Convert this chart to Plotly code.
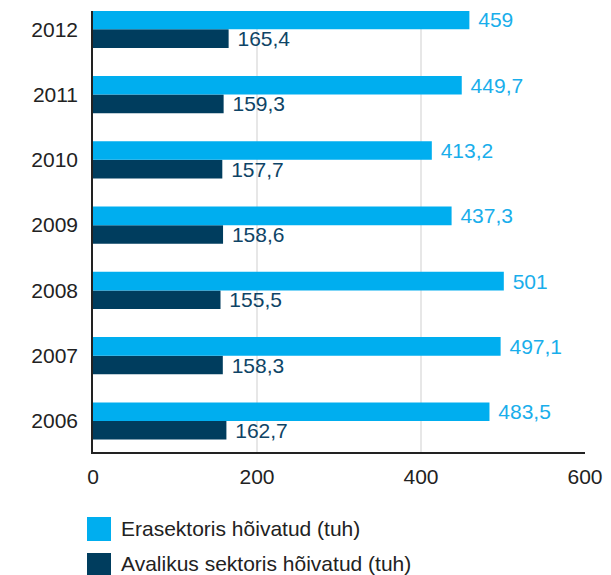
import plotly.graph_objects as go

years = ["2006", "2007", "2008", "2009", "2010", "2011", "2012"]
erasektor = [483.5, 497.1, 501, 437.3, 413.2, 449.7, 459]
avalik = [162.7, 158.3, 155.5, 158.6, 157.7, 159.3, 165.4]
x_ticks = [0, 200, 400, 600]
series_names = ["Erasektoris hõivatud (tuh)", "Avalikus sektoris hõivatud (tuh)"]

LIGHT = "#00AEEF"
DARK = "#003D5E"
LIGHT_TXT = "#19AEEB"
DARK_TXT = "#0E4466"
FONT = "Liberation Sans, Arial, sans-serif"
FS = 21

# page is drawn with an 8px body margin; work in page pixels and convert
OFF = 8
W, H = 611 - OFF, 575 - OFF
PL, PR, PT, PB = 93, 585, 11, 452  # plot area in page pixels
ML, MR, MT, MB = PL - OFF, W - (PR - OFF), PT - OFF, H - (PB - OFF)
PW = W - ML - MR
PH = H - MT - MB

def px_x(p):
    return (p - PL) / PW

def px_y(p):
    return (PB - p) / PH

fig = go.Figure()
fig.add_trace(go.Bar(
    y=years, x=avalik, orientation="h", name=series_names[1],
    marker=dict(color=DARK, line=dict(width=0)),
    texttemplate="\u00a0%{x}", textposition="outside",
    textfont=dict(color=DARK_TXT, size=FS, family=FONT),
    constraintext="none", cliponaxis=False, showlegend=False,
))
fig.add_trace(go.Bar(
    y=years, x=erasektor, orientation="h", name=series_names[0],
    marker=dict(color=LIGHT, line=dict(width=0)),
    texttemplate="\u00a0%{x}", textposition="outside",
    textfont=dict(color=LIGHT_TXT, size=FS, family=FONT),
    constraintext="none", cliponaxis=False, showlegend=False,
))

shapes = []
for gx in x_ticks[1:-1]:
    shapes.append(dict(type="line", xref="x", yref="paper", x0=gx, x1=gx, y0=0, y1=1,
                       line=dict(color="#CFCFCF", width=1), layer="below"))
# legend swatches
for i, col in enumerate([LIGHT, DARK]):
    top = 517 + 36 * i
    shapes.append(dict(type="rect", xref="paper", yref="paper",
                       x0=px_x(87), x1=px_x(111), y0=px_y(top), y1=px_y(top + 24),
                       fillcolor=col, line=dict(width=0)))

annotations = []
for i, name in enumerate(series_names):
    annotations.append(dict(xref="paper", yref="paper", x=px_x(119), y=px_y(528 + 35 * i),
                            text=name, showarrow=False, xanchor="left", yanchor="middle",
                            font=dict(size=FS, color="#222222", family=FONT)))

fig.update_layout(
    width=W, height=H,
    margin=dict(l=ML, r=MR, t=MT, b=MB, autoexpand=False),
    barmode="group", bargap=0.43, bargroupgap=0,
    separators=", ",
    plot_bgcolor="white", paper_bgcolor="white",
    font=dict(family=FONT, size=FS, color="#222222"),
    shapes=shapes, annotations=annotations,
    showlegend=False,
)
fig.update_xaxes(range=[0, 600], tickvals=x_ticks, showgrid=False, zeroline=False,
                 showline=True, linecolor="#222222", linewidth=1.5, automargin=False,
                 ticks="", ticklabelstandoff=5,
                 tickfont=dict(size=FS, color="#222222", family=FONT))
fig.update_yaxes(type="category", categoryorder="array", categoryarray=years,
                 range=[-0.475, 6.28], showgrid=False, zeroline=False, automargin=False,
                 showline=True, linecolor="#222222", linewidth=1.5,
                 ticks="", ticklabelstandoff=9,
                 tickfont=dict(size=FS, color="#222222", family=FONT))

fig.write_html("out.html")
